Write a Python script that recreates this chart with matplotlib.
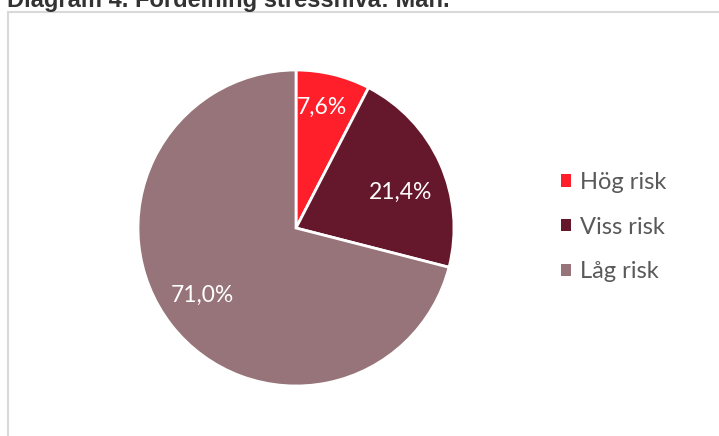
import numpy as np
import matplotlib.pyplot as plt
from matplotlib.patches import Rectangle

# Fördelning av stressnivå bland män
kategorier = ['Hög risk', 'Viss risk', 'Låg risk']
andelar = [7.6, 21.4, 71.0]
farger = ['#FF1F2B', '#65172B', '#97737A']
titel = 'Diagram 4. Fördelning stressnivå: Män.'

W, H = 719, 436
fig = plt.figure(figsize=(W / 100, H / 100), dpi=100)

# ram runt diagramytan
fig.patches.append(Rectangle((8 / W, -0.1), 1.1, 1 - 12 / H + 0.1,
                             transform=fig.transFigure, fill=False,
                             edgecolor='#D9D9D9', linewidth=1.5))

fig.text(7 / W, 1 - 7 / H, titel, fontsize=17, fontweight='bold',
         family='Liberation Sans', color='#333333', va='baseline')

# pajen: centrum ca (296, 228) px, radie ca 158 px
cx, cy, r = 296, 228, 158
ax = fig.add_axes([(cx - r) / W, (H - cy - r) / H, 2 * r / W, 2 * r / H])
wedges, _ = ax.pie(andelar, colors=farger, startangle=90, counterclock=False,
                   wedgeprops=dict(edgecolor='white', linewidth=2))
ax.set_xlim(-1, 1)
ax.set_ylim(-1, 1)
ax.set_aspect('equal')

# procentetiketter inne i sektorerna (avstånd från centrum, vinkeljustering)
placering = [(0.78, 1.6), (0.70, -5.2), (0.73, -2.0)]
for w, v, (d, dv) in zip(wedges, andelar, placering):
    mitt = np.deg2rad((w.theta1 + w.theta2) / 2 + dv)
    ax.text(d * np.cos(mitt), d * np.sin(mitt), f'{v:.1f}%'.replace('.', ','),
            ha='center', va='center', color='white', fontsize=16.5, family='Lato')

leg = fig.legend(wedges, kategorier, loc='center left',
                 bbox_to_anchor=(561 / W, 1 - 227 / H), frameon=False,
                 prop=dict(family='Lato', size=17), labelcolor='#595959',
                 handlelength=0.42, handleheight=0.42, handletextpad=0.38,
                 labelspacing=1.0, borderpad=0, borderaxespad=0)
for h in leg.legend_handles:
    h.set_edgecolor('none')

fig.savefig('out.png', dpi=100)
